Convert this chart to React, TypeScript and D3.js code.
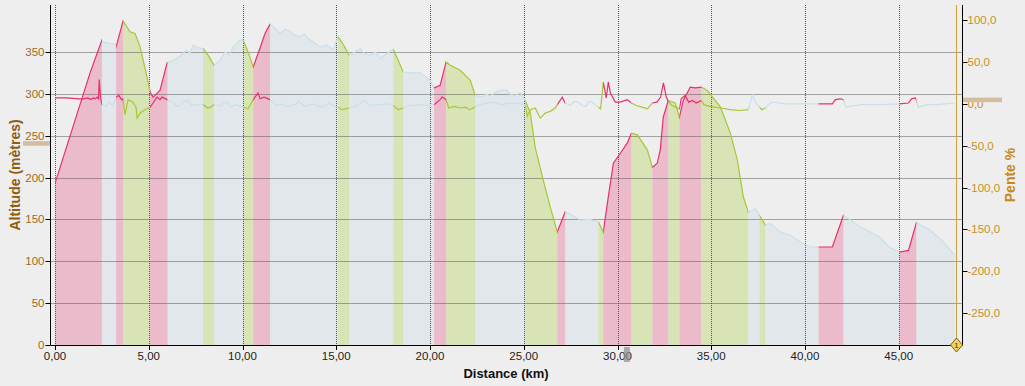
import * as d3 from 'd3'

// altitude profile: [km, metres]
const altitudeProfile: [number, number][] = [
  [0, 193], [1.87, 325], [2.5, 364],
  [2.55, 362], [2.9, 360], [3.2, 360], [3.26, 356], [3.63, 387],
  [4.0, 374], [4.27, 372], [4.54, 356], [4.91, 320], [5.07, 302],
  [5.23, 296], [5.6, 304], [5.98, 337],
  [6.3, 340], [6.67, 345], [7.0, 352], [7.2, 349], [7.36, 358], [7.6, 355], [7.9, 354],
  [8.2, 345], [8.48, 334],
  [8.8, 340], [9.07, 350], [9.3, 347], [9.5, 356], [9.87, 364], [10.03, 364],
  [10.3, 350], [10.57, 332],
  [10.94, 355], [11.2, 372], [11.47, 383],
  [11.74, 378], [12.0, 372], [12.3, 377], [12.5, 375], [12.8, 370], [13.07, 368], [13.3, 371],
  [13.5, 366], [13.77, 362], [14.14, 356], [14.5, 358], [14.83, 353], [15.1, 368],
  [15.4, 358], [15.69, 346],
  [16.0, 350], [16.28, 354], [16.5, 348], [16.81, 346], [17.1, 350], [17.34, 342], [17.7, 348], [18.04, 353],
  [18.3, 340], [18.57, 326],
  [19.0, 325], [19.48, 325], [20.01, 316], [20.22, 307],
  [20.54, 310], [20.86, 338],
  [21.08, 334], [21.61, 328], [22.15, 316], [22.41, 298],
  [22.8, 296], [23.0, 300], [23.21, 297], [23.5, 302], [23.75, 304], [24.12, 304], [24.3, 299],
  [24.55, 298], [24.8, 301], [25.08, 292],
  [25.35, 277], [25.61, 236], [26.04, 197], [26.41, 165], [26.79, 135],
  [27.21, 159],
  [27.6, 155], [28.02, 149], [28.5, 150], [28.98, 147],
  [29.24, 135],
  [29.51, 177], [29.78, 217], [30.15, 229], [30.52, 241], [30.74, 253],
  [31.06, 251], [31.59, 233], [31.86, 212],
  [32.12, 217], [32.28, 233], [32.44, 272], [32.71, 292],
  [33.08, 289], [33.3, 272],
  [33.51, 292], [33.88, 308], [34.15, 307], [34.47, 308],
  [34.79, 304], [35.49, 284], [36.02, 253], [36.39, 221], [36.71, 177], [36.98, 158],
  [37.35, 163], [37.57, 155],
  [37.89, 143],
  [38.15, 145], [38.69, 135], [39.22, 131], [39.75, 123], [40.29, 117], [40.72, 117],
  [41.46, 117], [42.05, 155],
  [42.5, 148], [42.96, 141], [43.5, 135], [44.02, 128], [44.5, 117], [45.04, 111],
  [45.52, 113], [45.94, 146],
  [46.69, 137], [47.3, 125], [48.0, 107],
]

// slope: [km, %]
const slopeProfile: [number, number][] = [
  [0, 7], [0.6, 7], [1.3, 6], [1.5, 6], [1.75, 7], [1.9, 5], [2.05, 7], [2.15, 6],
  [2.25, 8], [2.32, 6], [2.36, 29], [2.42, 10], [2.5, -1],
  [2.7, -3], [2.9, 2], [3.1, -3], [3.26, 8], [3.4, 10], [3.55, 5], [3.63, 6],
  [3.73, -13], [3.9, 5], [4.16, 2], [4.32, -4], [4.38, -17], [4.54, -11], [4.8, -7], [5.07, -4],
  [5.23, 1], [5.44, 8], [5.6, 5], [5.71, 8], [5.98, 5],
  [6.3, 2], [6.5, -3], [6.7, -2], [6.9, 4], [7.1, 3], [7.3, -2], [7.5, -1], [7.9, -1],
  [8.15, -5], [8.3, -4], [8.48, -1],
  [8.8, -3], [9.0, 1], [9.2, 2], [9.4, -4], [9.6, -1], [10.03, -4],
  [10.3, -6], [10.57, 5],
  [10.83, 13], [10.94, 6], [11.15, 8], [11.47, 5],
  [11.8, -2], [12.1, 0], [12.3, -3], [12.8, -1], [13.0, 3], [13.3, -3], [13.8, 0], [14.1, -3],
  [14.3, -4], [14.6, 1], [14.8, -2], [15.1, -4],
  [15.3, -7], [15.69, -5],
  [16.0, -3], [16.3, 1], [16.5, 4], [16.8, -2], [17.3, -1], [17.7, 0], [18.04, -2],
  [18.3, -7], [18.57, -5],
  [18.9, -2], [19.4, -1], [19.9, -2], [20.22, -1],
  [20.54, 5], [20.65, 8], [20.86, 5],
  [21.0, -5], [21.3, -3], [21.6, -5], [21.9, -4], [22.1, -7], [22.41, -4],
  [22.8, 0], [23.3, 2], [23.8, -1], [24.3, 1], [24.8, 0], [25.08, -2],
  [25.19, -15], [25.35, -7], [25.61, -5], [25.88, -17], [26.15, -11], [26.41, -9], [26.68, -5], [26.79, -1],
  [27.05, 8], [27.21, 1],
  [27.5, -2], [27.7, 3], [27.9, 2], [28.1, -2], [28.3, -3], [28.5, 3], [28.7, 1], [28.98, -4],
  [29.1, -6], [29.24, 26], [29.4, 7], [29.51, 26], [29.62, 13], [29.88, 2], [30.15, 2], [30.52, 5], [30.74, 1],
  [31.0, -2], [31.3, -4], [31.6, -6], [31.86, 1],
  [32.1, 2], [32.3, 8], [32.45, 25], [32.6, 8], [32.71, 3],
  [32.9, -2], [33.1, -4], [33.3, -6],
  [33.4, 6], [33.6, 10], [33.8, 2], [34.0, 4], [34.2, 1], [34.47, 4],
  [34.6, -1], [34.9, -3], [35.5, -5], [36.0, -7], [36.5, -8], [36.98, -7],
  [37.1, 3], [37.2, 11], [37.35, 2], [37.57, -4],
  [37.7, -7], [37.89, -5],
  [38.2, 2], [38.6, 1], [39.0, 0], [39.5, 0], [40.0, 0], [40.72, 0],
  [41.46, 0], [41.62, 5], [41.89, 6], [42.05, 5],
  [42.2, -4], [43, -1], [44, -1], [45.04, 0],
  [45.52, 1], [45.68, 6], [45.89, 7], [45.94, 5],
  [46.05, -4], [46.5, -1], [47, -1], [47.5, 0], [48, 1],
]

// segment boundaries (km) and kind of each segment
const segmentBreaks = [
  0, 2.5, 3.26, 3.63, 5.07, 6.0, 7.9, 8.48, 10.03, 10.57,
  11.47, 15.1, 15.69, 18.04, 18.57, 20.22, 20.86, 22.41, 25.08, 26.79,
  27.21, 28.98, 29.24, 30.74, 31.86, 32.71, 33.3, 34.47, 36.98, 37.57,
  37.89, 40.72, 42.05, 45.04, 45.94, 48,
]
const segmentTypes = [
  'up', 'flat', 'up', 'down', 'up', 'flat', 'down', 'flat', 'down', 'up',
  'flat', 'down', 'flat', 'down', 'flat', 'up', 'down', 'flat', 'down', 'up',
  'flat', 'down', 'up', 'down', 'up', 'down', 'up', 'down', 'flat', 'down',
  'flat', 'up', 'flat', 'up', 'flat',
]

const distanceTicks = [0, 5, 10, 15, 20, 25, 30, 35, 40, 45]
const altitudeTicks = [0, 50, 100, 150, 200, 250, 300, 350]
const slopeTicks = [-250, -200, -150, -100, -50, 0, 50, 100]

const avgAltitude = 241
const avgSlope = 5
const cursorKm = 48
const sliderKm = 30.5

const kinds = ['flat', 'down', 'up']
const fillColor: Record<string, string> = { up: '#ebbacb', down: '#d9e4b6', flat: '#e1e7eb' }
const lineColor: Record<string, string> = { up: '#e5306b', down: '#a8c634', flat: '#c9e0ea' }

const W = 1025
const H = 386
const top = 5
const bottom = 345

const x = d3.scaleLinear().domain([0, 48]).range([55, 955])
const yAlt = d3.scaleLinear().domain([0, 406]).range([bottom, top])
const ySlope = d3.scaleLinear().domain([-288, 118]).range([bottom, top])

const comma = (f: string) => (v: number) => d3.format(f)(v).replace('.', ',').replace('−', '-')

export default function App() {
  const area = d3.area<[number, number]>()
    .x(d => x(d[0]))
    .y0(yAlt(0))
    .y1(d => yAlt(d[1]))
  const altLine = d3.line<[number, number]>().x(d => x(d[0])).y(d => yAlt(d[1]))
  const slopeLine = d3.line<[number, number]>().x(d => x(d[0])).y(d => ySlope(d[1]))

  const font = '"Liberation Sans", Arial, sans-serif'
  const leftAxisX = 50.5
  const rightAxisX = 962.5
  const cx = Math.round(x(cursorKm)) + 1.5

  return (
    <svg width={W} height={H} style={{ position: 'absolute', left: 0, top: 0, background: '#eeeeee' }} fontFamily={font}>
      <defs>
        {kinds.map(k => (
          <clipPath id={`clip-${k}`} key={k}>
            {segmentTypes.map((t, i) => t === k ? (
              <rect key={i} x={x(segmentBreaks[i])} y={0}
                width={x(segmentBreaks[i + 1]) - x(segmentBreaks[i])} height={H} />
            ) : null)}
          </clipPath>
        ))}
      </defs>

      {kinds.map(k => (
        <path key={'a' + k} d={area(altitudeProfile) || ''} fill={fillColor[k]} clipPath={`url(#clip-${k})`} />
      ))}

      {/* grid */}
      <g stroke="#555" strokeWidth={1} strokeDasharray="1,1">
        {altitudeTicks.filter(t => t > 0).map(t => (
          <line key={'h' + t} x1={leftAxisX} x2={rightAxisX} y1={Math.round(yAlt(t)) + 0.5} y2={Math.round(yAlt(t)) + 0.5} />
        ))}
        {distanceTicks.map(t => (
          <line key={'v' + t} x1={Math.round(x(t)) + 0.5} x2={Math.round(x(t)) + 0.5} y1={top} y2={bottom} />
        ))}
      </g>

      {kinds.map(k => (
        <g key={'l' + k} clipPath={`url(#clip-${k})`} fill="none" stroke={lineColor[k]} strokeWidth={1.2}>
          <path d={altLine(altitudeProfile) || ''} />
          <path d={slopeLine(slopeProfile) || ''} />
        </g>
      ))}

      {/* axes */}
      <g stroke="#000" strokeWidth={1}>
        <line x1={leftAxisX} x2={leftAxisX} y1={top} y2={bottom + 0.5} />
        <line x1={leftAxisX} x2={rightAxisX} y1={bottom + 0.5} y2={bottom + 0.5} />
        <line x1={rightAxisX} x2={rightAxisX} y1={top} y2={bottom + 0.5} />
        {altitudeTicks.map(t => (
          <line key={'lt' + t} x1={leftAxisX - 5} x2={leftAxisX} y1={Math.round(yAlt(t)) + 0.5} y2={Math.round(yAlt(t)) + 0.5} />
        ))}
        {slopeTicks.map(t => (
          <line key={'rt' + t} x1={rightAxisX} x2={rightAxisX + 5} y1={Math.round(ySlope(t)) + 0.5} y2={Math.round(ySlope(t)) + 0.5} />
        ))}
        {distanceTicks.map(t => (
          <line key={'bt' + t} x1={Math.round(x(t)) + 0.5} x2={Math.round(x(t)) + 0.5} y1={bottom} y2={bottom + 5} />
        ))}
      </g>

      <g fontSize={11.5} fill="#a06a1e" textAnchor="end">
        {altitudeTicks.map(t => (
          <text key={t} x={leftAxisX - 6} y={yAlt(t)} dy="0.35em">{t}</text>
        ))}
      </g>
      <g fontSize={11.5} fill="#c8901e" textAnchor="start">
        {slopeTicks.map(t => (
          <text key={t} x={rightAxisX + 5} y={ySlope(t)} dy="0.35em">{comma('.1f')(t)}</text>
        ))}
      </g>
      <g fontSize={11.5} fill="#222" textAnchor="middle">
        {distanceTicks.map(t => (
          <text key={t} x={x(t)} y={bottom + 15}>{comma('.2f')(t)}</text>
        ))}
      </g>

      <text transform={`translate(20,${(top + bottom) / 2}) rotate(-90)`} textAnchor="middle"
        fontSize={14} fontWeight="bold" fill="#8f5c12">Altitude (mètres)</text>
      <text transform={`translate(1015,175) rotate(-90)`} textAnchor="middle"
        fontSize={14} fontWeight="bold" fill="#c4891a">Pente %</text>
      <text x={506} y={378} textAnchor="middle" fontSize={13} fontWeight="bold" fill="#111">Distance (km)</text>

      {/* average markers */}
      <rect x={23} y={yAlt(avgAltitude) - 2} width={27} height={4.5} fill="#d4bd9c" />
      <rect x={963} y={ySlope(avgSlope) - 2} width={39} height={4.5} fill="#d4bd9c" />

      {/* cursor */}
      <line x1={cx} x2={cx} y1={top} y2={bottom} stroke="#c9a23c" strokeWidth={1} />
      <path d={`M${cx},${bottom - 7}L${cx + 6},${bottom}L${cx},${bottom + 7}L${cx - 6},${bottom}Z`}
        fill="#f2d45a" stroke="#7a6118" strokeWidth={1} />
      <text x={cx} y={bottom + 3} textAnchor="middle" fontSize={8} fill="#333">1</text>

      {/* slider thumb */}
      <rect x={x(sliderKm) - 3} y={bottom + 2} width={6} height={15} fill="#8c8c8c" opacity={0.7} />
    </svg>
  )
}
